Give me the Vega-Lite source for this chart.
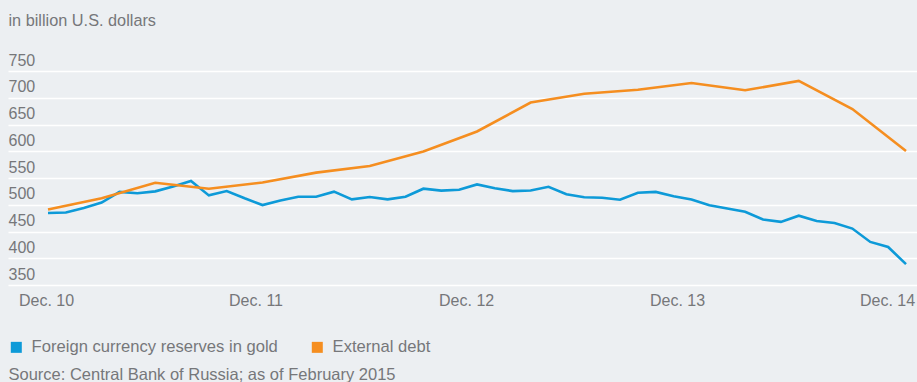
{
  "$schema": "https://vega.github.io/schema/vega-lite/v6.json",
  "width": 909,
  "height": 214,
  "autosize": {"type": "none"},
  "padding": {"left": 8, "top": 71, "right": 0, "bottom": 97},
  "background": "#eceff2",
  "config": {"view": {"stroke": null}, "font": "Liberation Sans"},
  "data": {"values": [
    {"month": 0, "series": "Foreign currency reserves in gold", "value": 484.5},
    {"month": 1, "series": "Foreign currency reserves in gold", "value": 485.5},
    {"month": 2, "series": "Foreign currency reserves in gold", "value": 494},
    {"month": 3, "series": "Foreign currency reserves in gold", "value": 504},
    {"month": 4, "series": "Foreign currency reserves in gold", "value": 524},
    {"month": 5, "series": "Foreign currency reserves in gold", "value": 521.5},
    {"month": 6, "series": "Foreign currency reserves in gold", "value": 525},
    {"month": 7, "series": "Foreign currency reserves in gold", "value": 534},
    {"month": 8, "series": "Foreign currency reserves in gold", "value": 544.5},
    {"month": 9, "series": "Foreign currency reserves in gold", "value": 517.5},
    {"month": 10, "series": "Foreign currency reserves in gold", "value": 525.5},
    {"month": 11, "series": "Foreign currency reserves in gold", "value": 512},
    {"month": 12, "series": "Foreign currency reserves in gold", "value": 499.5},
    {"month": 13, "series": "Foreign currency reserves in gold", "value": 508},
    {"month": 14, "series": "Foreign currency reserves in gold", "value": 515},
    {"month": 15, "series": "Foreign currency reserves in gold", "value": 515},
    {"month": 16, "series": "Foreign currency reserves in gold", "value": 524.5},
    {"month": 17, "series": "Foreign currency reserves in gold", "value": 510},
    {"month": 18, "series": "Foreign currency reserves in gold", "value": 514.5},
    {"month": 19, "series": "Foreign currency reserves in gold", "value": 510},
    {"month": 20, "series": "Foreign currency reserves in gold", "value": 515},
    {"month": 21, "series": "Foreign currency reserves in gold", "value": 530},
    {"month": 22, "series": "Foreign currency reserves in gold", "value": 526.5},
    {"month": 23, "series": "Foreign currency reserves in gold", "value": 528},
    {"month": 24, "series": "Foreign currency reserves in gold", "value": 538},
    {"month": 25, "series": "Foreign currency reserves in gold", "value": 531},
    {"month": 26, "series": "Foreign currency reserves in gold", "value": 525.5},
    {"month": 27, "series": "Foreign currency reserves in gold", "value": 526.5},
    {"month": 28, "series": "Foreign currency reserves in gold", "value": 533.5},
    {"month": 29, "series": "Foreign currency reserves in gold", "value": 519.5},
    {"month": 30, "series": "Foreign currency reserves in gold", "value": 514},
    {"month": 31, "series": "Foreign currency reserves in gold", "value": 513},
    {"month": 32, "series": "Foreign currency reserves in gold", "value": 509.5},
    {"month": 33, "series": "Foreign currency reserves in gold", "value": 522.5},
    {"month": 34, "series": "Foreign currency reserves in gold", "value": 524},
    {"month": 35, "series": "Foreign currency reserves in gold", "value": 516},
    {"month": 36, "series": "Foreign currency reserves in gold", "value": 510},
    {"month": 37, "series": "Foreign currency reserves in gold", "value": 499},
    {"month": 38, "series": "Foreign currency reserves in gold", "value": 493},
    {"month": 39, "series": "Foreign currency reserves in gold", "value": 487},
    {"month": 40, "series": "Foreign currency reserves in gold", "value": 472.5},
    {"month": 41, "series": "Foreign currency reserves in gold", "value": 468},
    {"month": 42, "series": "Foreign currency reserves in gold", "value": 479.5},
    {"month": 43, "series": "Foreign currency reserves in gold", "value": 469.5},
    {"month": 44, "series": "Foreign currency reserves in gold", "value": 466},
    {"month": 45, "series": "Foreign currency reserves in gold", "value": 455.5},
    {"month": 46, "series": "Foreign currency reserves in gold", "value": 430.5},
    {"month": 47, "series": "Foreign currency reserves in gold", "value": 421},
    {"month": 48, "series": "Foreign currency reserves in gold", "value": 389},
    {"month": 0, "series": "External debt", "value": 491},
    {"month": 3, "series": "External debt", "value": 512},
    {"month": 6, "series": "External debt", "value": 541},
    {"month": 9, "series": "External debt", "value": 530},
    {"month": 12, "series": "External debt", "value": 541.5},
    {"month": 15, "series": "External debt", "value": 560},
    {"month": 18, "series": "External debt", "value": 572.5},
    {"month": 21, "series": "External debt", "value": 599.5},
    {"month": 24, "series": "External debt", "value": 637},
    {"month": 27, "series": "External debt", "value": 691},
    {"month": 30, "series": "External debt", "value": 707.5},
    {"month": 33, "series": "External debt", "value": 715},
    {"month": 36, "series": "External debt", "value": 727.5},
    {"month": 39, "series": "External debt", "value": 714},
    {"month": 42, "series": "External debt", "value": 731.5},
    {"month": 45, "series": "External debt", "value": 679},
    {"month": 48, "series": "External debt", "value": 600.5}
  ]},
  "mark": {"type": "line", "strokeWidth": 2.6, "interpolate": "linear"},
  "encoding": {
    "x": {
      "field": "month",
      "type": "quantitative",
      "scale": {"domain": [-2.238, 48.615], "nice": false, "zero": false},
      "axis": {
        "values": [-0.11, 11.61, 23.39, 35.19, 46.94],
        "labelExpr": "['Dec. 10','Dec. 11','Dec. 12','Dec. 13','Dec. 14'][round((datum.value + 0.11) / 11.76)]",
        "grid": false,
        "domain": false,
        "ticks": false,
        "tickSize": 0,
        "labelFontSize": 16,
        "labelColor": "#76777a",
        "labelPadding": 7,
        "labelAlign": "center",
        "labelBaseline": "top",
        "labelFlush": false,
        "labelOverlap": false,
        "title": "Source: Central Bank of Russia; as of February 2015",
        "titleFontSize": 16.5,
        "titleFontWeight": "normal",
        "titleColor": "#76777a",
        "titleAnchor": "start",
        "titleAlign": "left",
        "titleBaseline": "alphabetic",
        "titleX": 0,
        "titleY": 94.3
      }
    },
    "y": {
      "field": "value",
      "type": "quantitative",
      "scale": {"domain": [350, 750], "nice": false, "zero": false},
      "axis": {
        "values": [350, 400, 450, 500, 550, 600, 650, 700, 750],
        "grid": true,
        "gridColor": "#ffffff",
        "gridWidth": 1.6,
        "domain": false,
        "ticks": false,
        "tickSize": 0,
        "labelAlign": "left",
        "labelBaseline": "alphabetic",
        "labelPadding": 0,
        "labelOffset": -6,
        "labelFlush": false,
        "labelOverlap": false,
        "labelFontSize": 16,
        "labelColor": "#76777a",
        "title": "in billion U.S. dollars",
        "titleAngle": 0,
        "titleAlign": "left",
        "titleBaseline": "alphabetic",
        "titleX": 0,
        "titleY": -46,
        "titleFontSize": 16.3,
        "titleFontWeight": "normal",
        "titleColor": "#76777a"
      }
    },
    "color": {
      "field": "series",
      "type": "nominal",
      "scale": {
        "domain": ["Foreign currency reserves in gold", "External debt"],
        "range": ["#0d9ad8", "#f58e20"]
      },
      "legend": {
        "orient": "none",
        "legendX": 0,
        "legendY": 268,
        "direction": "horizontal",
        "title": null,
        "padding": 0,
        "symbolType": "square",
        "symbolSize": 121,
        "symbolStrokeWidth": 0,
        "labelFontSize": 16.6,
        "labelColor": "#76777a",
        "labelOffset": 7,
        "labelLimit": 400,
        "columnPadding": 31,
        "encode": {
          "symbols": {"update": {"fill": {"scale": "color", "field": "value"}, "opacity": {"value": 1}}}
        }
      }
    }
  }
}
